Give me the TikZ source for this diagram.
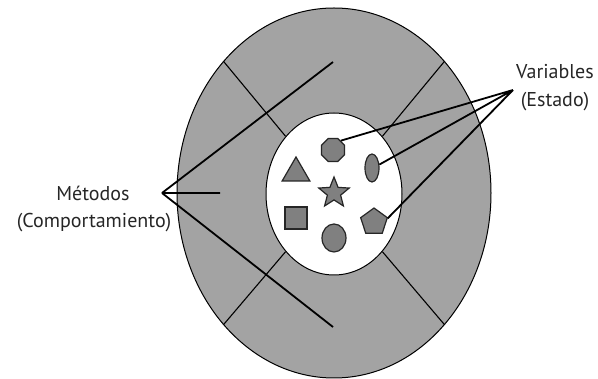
\documentclass[tikz,border=0pt]{standalone}
\usepackage{fontspec}
\setmainfont{PT Sans}
\usetikzlibrary{shapes.geometric,positioning}

\tikzset{
  item/.style={draw=black!85, fill=black!50, line width=1.2pt, inner sep=0pt},
  pointer/.style={line width=1.8pt},
  divider/.style={line width=1.1pt},
  label/.style={font=\fontsize{20}{24}\selectfont, text=black!85, inner sep=0pt, anchor=base},
}

\begin{document}
\begin{tikzpicture}[x=1pt,y=-1pt]
  \useasboundingbox (0,0) rectangle (598,379);
  % the object
  \node (outer) [ellipse, draw, line width=1pt, fill=black!36, minimum width=314pt, minimum height=370pt] at (334,193) {};
  \node (inner) [ellipse, draw, line width=1pt, fill=white, minimum width=136pt, minimum height=162pt] at (334,194) {};
  \foreach \a in {50,130,230,310}
    \draw [divider] (outer.\a) -- (inner.\a);
  % state
  \node (oct) [item, regular polygon, regular polygon sides=8, minimum size=25pt] at (333,150) {};
  \node (oval) [item, ellipse, minimum width=14pt, minimum height=28pt] at (372,168) {};
  \node (tri) [item, regular polygon, regular polygon sides=3, minimum size=32pt] at (296,173) {};
  \node (star) [item, star, star points=5, star point ratio=2.3, minimum size=32pt] at (334,193) {};
  \node (sq) [item, rectangle, minimum size=22pt] at (296,218) {};
  \node (pent) [item, regular polygon, regular polygon sides=5, minimum size=28pt] at (374,222) {};
  \node (circ) [item, ellipse, minimum width=24pt, minimum height=28pt] at (334,238) {};
  % labels
  \node (met) [label] at (93,201) {Métodos};
  \node (comp) [label] at (94,228) {(Comportamiento)};
  \node (var) [label] at (555,79) {Variables};
  \node (est) [label] at (555,107) {(Estado)};
  \coordinate (m) at (162,193);
  \coordinate (v) at (513,90);
  \coordinate (m1) at (333,62);
  \coordinate (m2) at (220,193);
  \coordinate (m3) at (333,327);
  \draw [pointer] (m) -- (m1) (m) -- (m2) (m) -- (m3);
  \draw [pointer] (oct.50) -- (v) (oval.25) -- (v) (pent.15) -- (v);
\end{tikzpicture}
\end{document}
